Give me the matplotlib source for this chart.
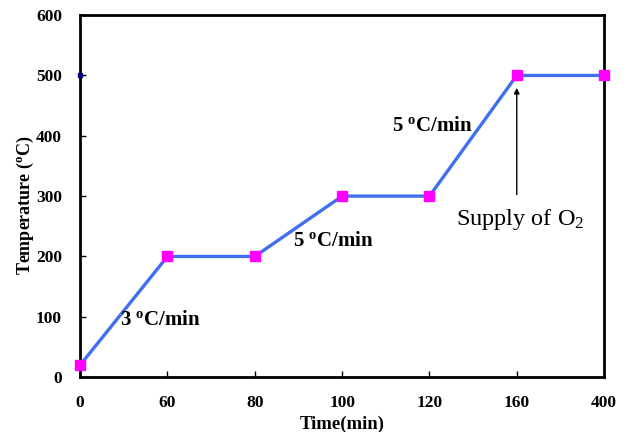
import matplotlib
matplotlib.use("Agg")
import matplotlib.pyplot as plt

plt.rcParams['font.family'] = 'Liberation Serif'
plt.rcParams['mathtext.fontset'] = 'custom'
plt.rcParams['mathtext.rm'] = 'Liberation Serif'
plt.rcParams['mathtext.bf'] = 'Liberation Serif:bold'
plt.rcParams['mathtext.it'] = 'Liberation Serif:italic'

# time ticks (evenly spaced categories) and temperature values
time_labels = ['0', '60', '80', '100', '120', '160', '400']
temps = [20, 200, 200, 300, 300, 500, 500]
y_ticks = [0, 100, 200, 300, 400, 500, 600]

x = list(range(len(time_labels)))

fig = plt.figure(figsize=(6.26, 4.32), dpi=100)
ax = fig.add_axes([0.128, 0.127, 0.837, 0.838])

ax.plot(x, temps, color='#4070f0', lw=2.4, zorder=2)
ax.plot(x, temps, ls='none', marker='s', ms=7, color='#ff00ff', zorder=3, clip_on=False)
# small stray mark at the left axis
ax.plot([0], [500], ls='none', marker='s', ms=2.5, color='#000080', clip_on=False, zorder=4)

ax.set_xlim(0, 6)
ax.set_ylim(0, 600)
ax.set_xticks(x)
ax.set_xticklabels(time_labels)
ax.set_yticks(y_ticks)
for lab in ax.get_xticklabels() + ax.get_yticklabels():
    lab.set_fontweight('bold')
    lab.set_fontsize(12.5)
ax.tick_params(direction='in', length=4, width=1)
ax.tick_params(axis='x', pad=13)
ax.tick_params(axis='y', pad=13)
for sp in ax.spines.values():
    sp.set_linewidth(2)

ax.set_xlabel('Time(min)', fontsize=13.5, fontweight='bold', labelpad=3)
ax.set_ylabel(r'Temperature ($^{\mathbf{o}}$C)', fontsize=13, fontweight='bold')
ax.yaxis.set_label_coords(-0.085, 0.475)

rate_kw = dict(fontsize=15, fontweight='bold', ha='center', va='center')
ax.text(0.92, 94, r'3 $^{\mathbf{o}}$C/min', **rate_kw)
ax.text(2.9, 225, r'5 $^{\mathbf{o}}$C/min', **rate_kw)
ax.text(4.03, 416, r'5 $^{\mathbf{o}}$C/min', **rate_kw)

ax.annotate('', xy=(5, 484), xytext=(5, 298),
            arrowprops=dict(arrowstyle='-|>', color='black', lw=1, mutation_scale=8))
ax.text(5.04, 262, r'Supply of O$_2$', fontsize=17.5, ha='center', va='center')

fig.savefig('out.png', dpi=100)
